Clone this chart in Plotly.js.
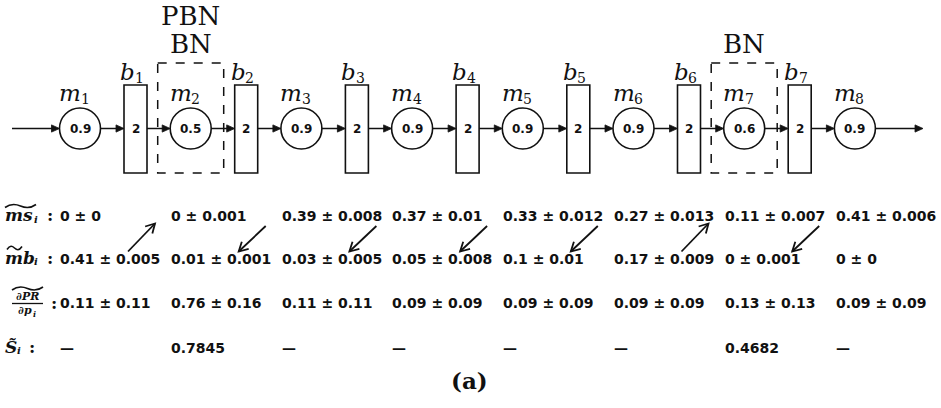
<!DOCTYPE html>
<html><head><meta charset="utf-8">
<script src="https://cdn.plot.ly/plotly-3.0.1.min.js"></script>
<style>html,body{margin:0;padding:0;background:#fff}#chart{width:941px;height:408px}</style>
</head><body><div id="chart"></div>
<script>
// ---- data ----
const machineIds = [1, 2, 3, 4, 5, 6, 7, 8];
const machineP = [0.9, 0.5, 0.9, 0.9, 0.9, 0.9, 0.6, 0.9];
const bufferIds = [1, 2, 3, 4, 5, 6, 7];
const bufferCap = [2, 2, 2, 2, 2, 2, 2];
const bottleneckTags = [[], ["PBN", "BN"], [], [], [], [], ["BN"], []];
const msMean = [0, 0, 0.39, 0.37, 0.33, 0.27, 0.11, 0.41];
const msStd = [0, 0.001, 0.008, 0.01, 0.012, 0.013, 0.007, 0.006];
const mbMean = [0.41, 0.01, 0.03, 0.05, 0.1, 0.17, 0, 0];
const mbStd = [0.005, 0.001, 0.005, 0.008, 0.01, 0.009, 0.001, 0];
const dprMean = [0.11, 0.76, 0.11, 0.09, 0.09, 0.09, 0.13, 0.09];
const dprStd = [0.11, 0.16, 0.11, 0.09, 0.09, 0.09, 0.13, 0.09];
const sValue = [null, 0.7845, null, null, null, null, 0.4682, null];
const arrowDir = ["up", "down", "down", "down", "down", "up", "down"];
const caption = "(a)";

// ---- layout constants ----
const serif = "DejaVu Serif", sans = "DejaVu Sans";
const ink = "#111";
const step = 110.7;
const mX0 = 80, bX0 = 135.5, flowY = 128.5, R = 20.5;
const bW = 23, bTop = 85, bBot = 173;
const colX0 = 58, colStep = 110.8;
const rowY = [216, 258.5, 302.5, 347.5];

const shapes = [], ann = [];
const mX = i => mX0 + step * i;
const bX = i => bX0 + step * i;

function line(x0, y0, x1, y1, w) {
  shapes.push({type: 'line', xref: 'x', yref: 'y', x0: x0, y0: y0, x1: x1, y1: y1, line: {color: ink, width: w}});
}
function arrow(x0, y0, x1, y1, w, open) {
  const dx = x1 - x0, dy = y1 - y0, L = Math.hypot(dx, dy);
  const ux = dx / L, uy = dy / L, nx = -uy, ny = ux;
  const hl = open ? 9 : 8, hw = open ? 5 : 3.6;
  const bx = x1 - hl * ux, by = y1 - hl * uy;
  const p1 = [bx + hw * nx, by + hw * ny], p2 = [bx - hw * nx, by - hw * ny];
  if (open) {
    line(x0, y0, x1, y1, w);
    shapes.push({type: 'path', xref: 'x', yref: 'y',
      path: `M ${p1[0]} ${p1[1]} L ${x1} ${y1} L ${p2[0]} ${p2[1]}`, line: {color: ink, width: w}});
  } else {
    line(x0, y0, bx + ux, by + uy, w);
    shapes.push({type: 'path', xref: 'x', yref: 'y',
      path: `M ${p1[0]} ${p1[1]} L ${x1} ${y1} L ${p2[0]} ${p2[1]} Z`, line: {color: ink, width: 0.8}, fillcolor: ink});
  }
}
function txt(x, y, s, font, xa) {
  ann.push({x: x, y: y, xref: 'x', yref: 'y', text: s, showarrow: false, xanchor: xa || 'center', yanchor: 'middle',
    font: Object.assign({color: ink}, font)});
}
function tilde(a, b, y) {
  const w = b - a;
  shapes.push({type: 'path', xref: 'x', yref: 'y',
    path: `M ${a} ${y + 1.5} C ${a + w * 0.2} ${y - 3}, ${a + w * 0.35} ${y - 2}, ${a + w / 2} ${y} S ${a + w * 0.8} ${y + 3}, ${b} ${y - 1.5}`,
    line: {color: ink, width: 1.6}});
}

// machines
machineIds.forEach((id, i) => {
  const cx = mX(i);
  shapes.push({type: 'circle', xref: 'x', yref: 'y', x0: cx - R, x1: cx + R, y0: flowY - R, y1: flowY + R,
    line: {color: ink, width: 1.6}, fillcolor: 'rgba(0,0,0,0)'});
  txt(cx, flowY + 0.5, '<b>' + machineP[i].toFixed(1) + '</b>', {family: sans, size: 12});
  txt(cx + 3, 93, '<i>m</i>', {family: serif, size: 23}, 'right');
  txt(cx - 1.5, 99, String(id), {family: serif, size: 14}, 'left');
  const tags = bottleneckTags[i];
  if (tags.length) {
    shapes.push({type: 'rect', xref: 'x', yref: 'y', x0: cx - 33, x1: cx + 33, y0: 63, y1: bBot,
      line: {color: ink, width: 1.5, dash: 'dash'}});
    tags.forEach((t, j) => txt(cx, 44 - 28 * (tags.length - 1 - j), t, {family: serif, size: 26}));
  }
});
// buffers
bufferIds.forEach((id, i) => {
  const cx = bX(i);
  shapes.push({type: 'rect', xref: 'x', yref: 'y', x0: cx - bW / 2, x1: cx + bW / 2, y0: bTop, y1: bBot,
    line: {color: ink, width: 1.6}});
  txt(cx, flowY + 0.5, '<b>' + bufferCap[i] + '</b>', {family: sans, size: 12});
  txt(cx + 1.5, 72, '<i>b</i>', {family: serif, size: 23}, 'right');
  txt(cx - 3, 77.5, String(id), {family: serif, size: 14}, 'left');
});
// flow arrows
const edges = [];
machineIds.forEach((id, i) => {
  edges.push([mX(i) - R, mX(i) + R]);
  if (i < bufferIds.length) edges.push([bX(i) - bW / 2, bX(i) + bW / 2]);
});
let prev = 12;
edges.forEach(e => { arrow(prev, flowY, e[0], flowY, 1.5, false); prev = e[1]; });
arrow(prev, flowY, 923, flowY, 1.5, false);

// table rows
const fmt = v => String(v);
machineIds.forEach((id, i) => {
  const x = colX0 + colStep * i;
  const f = {family: sans, size: 14};
  txt(x, rowY[0], '<b>' + fmt(msMean[i]) + ' ± ' + fmt(msStd[i]) + '</b>', f, 'left');
  txt(x, rowY[1], '<b>' + fmt(mbMean[i]) + ' ± ' + fmt(mbStd[i]) + '</b>', f, 'left');
  txt(x, rowY[2], '<b>' + fmt(dprMean[i]) + ' ± ' + fmt(dprStd[i]) + '</b>', f, 'left');
  txt(x, rowY[3], '<b>' + (sValue[i] === null ? '—' : fmt(sValue[i])) + '</b>', f, 'left');
});
// diagonal arrows between rows
arrowDir.forEach((d, k) => {
  const xc = 141.5 + step * k;
  if (d === 'up') arrow(xc - 13.5, 251.5, xc + 13.5, 223.5, 1.8, true);
  else arrow(xc + 13.5, 226, xc - 13.5, 251.5, 1.8, true);
});

// row labels
const lf = {family: serif, size: 17};
const sf = {family: serif, size: 10};
txt(3, rowY[0] - 1, '<b><i>ms</i></b>', lf, 'left');
txt(32, rowY[0] + 3, '<b><i>i</i></b>', sf, 'left');
txt(45, rowY[0] - 1, '<b>:</b>', lf, 'left');
tilde(5, 36, rowY[0] - 10);
txt(3, rowY[1] - 1, '<b><i>mb</i></b>', lf, 'left');
txt(32, rowY[1] + 3, '<b><i>i</i></b>', sf, 'left');
txt(45, rowY[1] - 1, '<b>:</b>', lf, 'left');
tilde(7, 22, rowY[1] - 10.5);
txt(27, rowY[2] - 6, '<b><i>∂PR</i></b>', {family: serif, size: 11});
txt(34, rowY[2] + 8, '<b><i>∂p</i></b>', {family: serif, size: 11}, 'right');
txt(30.5, rowY[2] + 11, '<b><i>i</i></b>', {family: serif, size: 8}, 'left');
txt(49, rowY[2], '<b>:</b>', lf, 'left');
line(12, rowY[2] + 1, 43, rowY[2] + 1, 1.3);
tilde(12, 43, rowY[2] - 14);
txt(3, rowY[3] - 1, '<b><i>S̃</i></b>', lf, 'left');
txt(15, rowY[3] + 3, '<b><i>i</i></b>', sf, 'left');
txt(27, rowY[3] - 1, '<b>:</b>', lf, 'left');

txt(469, 380, '<b>' + caption + '</b>', {family: serif, size: 23});

Plotly.newPlot('chart', [], {
  width: 941, height: 408, margin: {l: 0, r: 0, t: 0, b: 0},
  paper_bgcolor: '#fff', plot_bgcolor: '#fff', showlegend: false,
  xaxis: {range: [0, 941], visible: false, fixedrange: true},
  yaxis: {range: [408, 0], visible: false, fixedrange: true},
  shapes: shapes, annotations: ann
}, {staticPlot: true});
</script></body></html>
